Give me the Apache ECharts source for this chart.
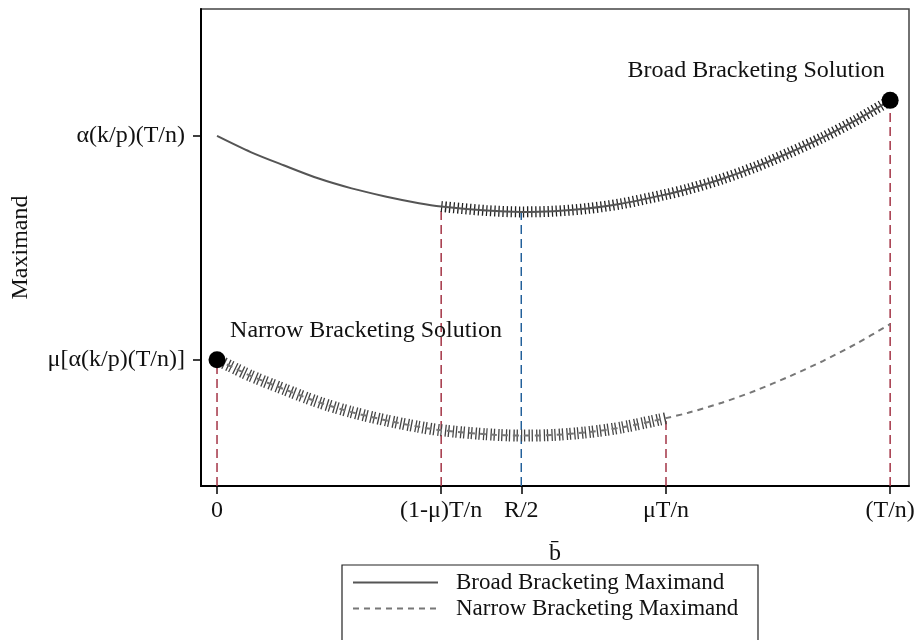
<!DOCTYPE html>
<html>
<head>
<meta charset="utf-8">
<script src="https://cdn.jsdelivr.net/npm/echarts@6/dist/echarts.min.js"></script>
<style>
html,body{margin:0;padding:0;background:#fff;}
#chart{width:922px;height:640px;}
</style>
</head>
<body>
<div id="chart"></div>
<script>
// ---- data (x in units of T/n) ----
const xVals      = [0, 0.05, 0.10, 0.15, 0.20, 0.25, 0.30, 0.333, 0.40, 0.452, 0.50, 0.55, 0.60, 0.667, 0.70, 0.75, 0.80, 0.85, 0.90, 0.95, 1.00];
const broadVals  = [1.000, 0.976, 0.956, 0.937, 0.922, 0.910, 0.900, 0.895, 0.889, 0.887, 0.888, 0.892, 0.899, 0.913, 0.921, 0.936, 0.954, 0.975, 0.998, 1.024, 1.053];
const narrowVals = [0.667, 0.643, 0.623, 0.604, 0.589, 0.577, 0.567, 0.562, 0.556, 0.554, 0.555, 0.559, 0.566, 0.580, 0.588, 0.603, 0.621, 0.642, 0.665, 0.691, 0.720];

const xTickValues = [0, 0.333, 0.452, 0.667, 1.0];
const xTickLabels = ['0', '(1-\u03bc)T/n', 'R/2', '\u03bcT/n', '(T/n)'];
const yTickValues = [0.667, 1.0];
const yTickLabels = ['\u03bc[\u03b1(k/p)(T/n)]', '\u03b1(k/p)(T/n)'];

const seriesNames = ['Broad Bracketing Maximand', 'Narrow Bracketing Maximand'];
const solutionNames = ['Broad Bracketing Solution', 'Narrow Bracketing Solution'];

// hatched ranges (x in T/n units)
const broadHatch  = [0.333, 1.0];
const narrowHatch = [0, 0.667];

// guide lines: x position and the curve they reach up to
const guideX     = [0, 0.333, 0.452, 0.667, 1.0];
const guideCurve = ['narrow', 'broad', 'broad', 'narrow', 'broad'];

// ---- build ----
const X_MIN = -0.0238, X_MAX = 1.028, Y_MIN = 0.479, Y_MAX = 1.189;
const FONT = '"Liberation Serif", "Times New Roman", serif';
const RED = '#a33345', BLUE = '#22609a';

const pair = (xs, ys) => xs.map((x, i) => [x, ys[i]]);
const broadData = pair(xVals, broadVals);
const narrowData = pair(xVals, narrowVals);
const inRange = (d, r) => d.filter(p => p[0] >= r[0] - 1e-9 && p[0] <= r[1] + 1e-9);
const valueAt = (x, curve) => {
  const ys = curve === 'broad' ? broadVals : narrowVals;
  const i = xVals.findIndex(v => Math.abs(v - x) < 1e-6);
  return ys[i];
};
const labelFor = (v, vals, labs) => {
  const i = vals.findIndex(t => Math.abs(t - v) < 1e-6);
  return i >= 0 ? labs[i] : '';
};

const series = [];

// guide lines
guideX.forEach((gx, i) => {
  series.push({
    type: 'line', silent: true, symbol: 'none', z: 1,
    data: [[gx, Y_MIN], [gx, valueAt(gx, guideCurve[i])]],
    lineStyle: { color: Math.abs(gx - 0.452) < 1e-6 ? BLUE : RED, width: 1.5, type: [9, 5] }
  });
});

// hatch bands
series.push({
  type: 'line', silent: true, symbol: 'none', z: 2, smooth: 0.3,
  data: inRange(broadData, broadHatch),
  lineStyle: { color: '#222', width: 11, type: [1.3, 2.8], cap: 'butt' }
});
series.push({
  type: 'line', silent: true, symbol: 'none', z: 2, smooth: 0.3,
  data: inRange(narrowData, narrowHatch),
  lineStyle: { color: '#444', width: 12, type: [1.3, 3.2, 1.3, 1.8], cap: 'butt' }
});

// main curves
series.push({
  name: seriesNames[0], type: 'line', symbol: 'none', z: 3, smooth: 0.3,
  data: broadData,
  itemStyle: { color: '#555' },
  lineStyle: { color: '#555', width: 2 }
});
series.push({
  name: seriesNames[1], type: 'line', symbol: 'none', z: 3, smooth: 0.3,
  data: narrowData,
  itemStyle: { color: '#777' },
  lineStyle: { color: '#777', width: 2, type: [6, 5] }
});

// solution dots
series.push({
  type: 'scatter', z: 5, symbolSize: 17, silent: true,
  itemStyle: { color: '#000', opacity: 1 },
  data: [
    { value: broadData[broadData.length - 1], label: { show: true, formatter: solutionNames[0], position: 'top', offset: [-134, -4] } },
    { value: narrowData[0], label: { show: true, formatter: solutionNames[1], position: 'top', offset: [149, -3] } }
  ],
  label: { fontFamily: FONT, fontSize: 24, color: '#111' }
});

const chart = echarts.init(document.getElementById('chart'));
chart.setOption({
  animation: false,
  backgroundColor: '#fff',
  grid: { left: 201, right: 13, top: 9, bottom: 154, show: true, borderColor: '#444', borderWidth: 1.5 },
  xAxis: {
    type: 'value', min: X_MIN, max: X_MAX,
    name: 'b\u0304', nameLocation: 'middle', nameGap: 56,
    nameTextStyle: { fontFamily: FONT, fontSize: 24, color: '#111' },
    axisLine: { onZero: false, lineStyle: { color: '#000', width: 2 } },
    axisTick: { show: true, customValues: xTickValues, length: 8, lineStyle: { color: '#000', width: 1.5 } },
    axisLabel: { customValues: xTickValues, formatter: v => labelFor(v, xTickValues, xTickLabels), fontFamily: FONT, fontSize: 24, color: '#111', margin: 13 },
    splitLine: { show: false }
  },
  yAxis: {
    type: 'value', min: Y_MIN, max: Y_MAX,
    name: 'Maximand', nameLocation: 'middle', nameGap: 168,
    nameTextStyle: { fontFamily: FONT, fontSize: 24, color: '#111' },
    axisLine: { onZero: false, lineStyle: { color: '#000', width: 2 } },
    axisTick: { show: true, customValues: yTickValues, length: 8, lineStyle: { color: '#000', width: 1.5 } },
    axisLabel: { customValues: yTickValues, formatter: v => labelFor(v, yTickValues, yTickLabels), fontFamily: FONT, fontSize: 24, color: '#111', margin: 16 },
    splitLine: { show: false }
  },
  legend: {
    data: seriesNames, orient: 'vertical', left: 342, top: 571,
    itemWidth: 85, itemHeight: 14, itemGap: 3,
    padding: [0, 10, 0, 10],
    itemStyle: { color: 'transparent', borderColor: 'transparent', borderWidth: 0 },
    textStyle: { fontFamily: FONT, fontSize: 23, color: '#111', padding: [0, 0, 0, 13] }
  },
  graphic: [{
    type: 'rect', silent: true,
    shape: { x: 342, y: 565, width: 416, height: 120 },
    style: { fill: 'none', stroke: '#222', lineWidth: 1.2 }
  }],
  series: series
});
</script>
</body>
</html>
